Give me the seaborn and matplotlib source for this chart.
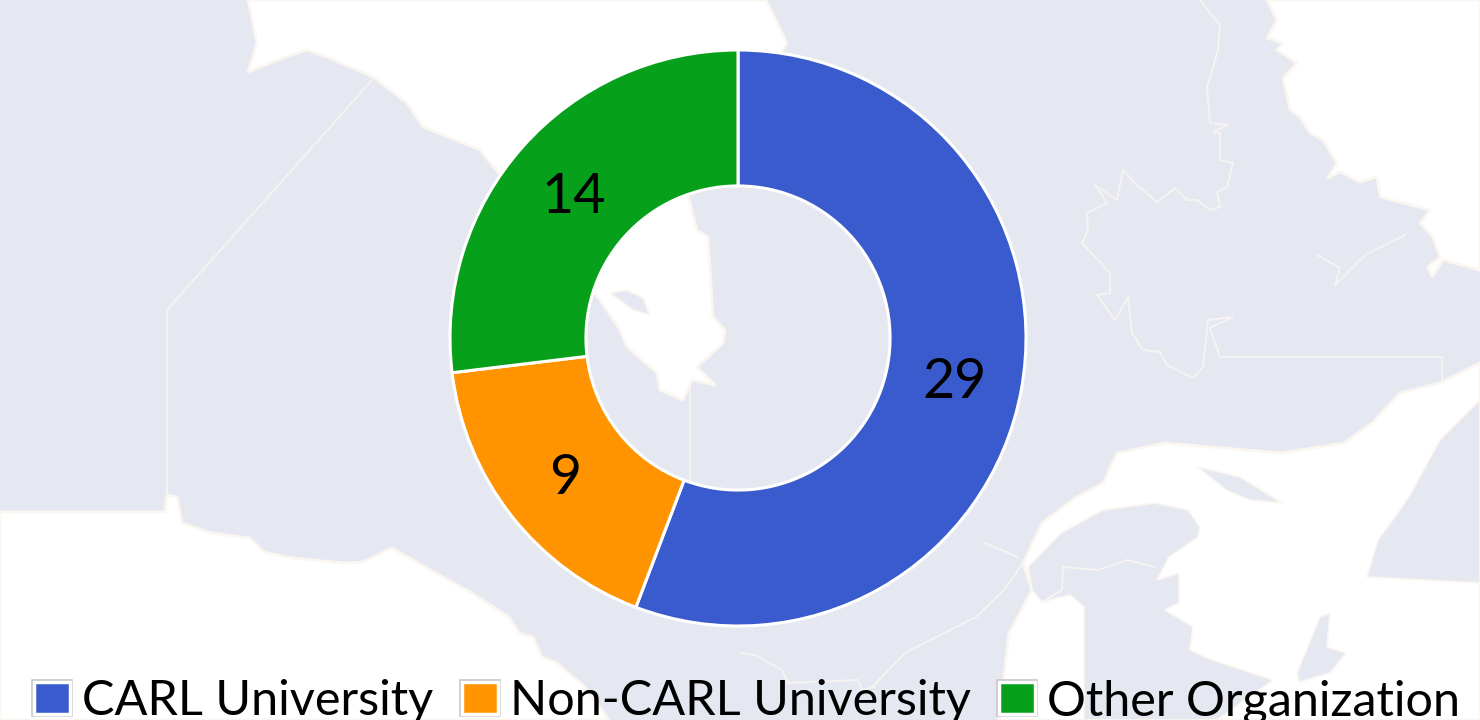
import matplotlib
matplotlib.use('Agg')
import matplotlib.pyplot as plt
import matplotlib.patheffects as pe
from matplotlib.patches import Patch
from matplotlib.transforms import ScaledTranslation
import seaborn as sns

categories = ['CARL University', 'Non-CARL University', 'Other Organization']
values = [29, 9, 14]
colors = sns.color_palette(['#3A5BCD', '#FF9300', '#06A01A'])

LAND = '#E5E8F1'
COAST = '#FBF6F0'

# faded map behind the chart, pixel coordinates
hudson = [(248, 0), (257, 43), (248, 72), (283, 58), (307, 50), (327, 57), (373, 77), (407, 103),
          (423, 127), (480, 150), (600, 300), (620, 330), (627, 347), (657, 373), (660, 390), (683, 400),
          (692, 380), (715, 385), (697, 367), (723, 343), (725, 330), (713, 317), (708, 237), (697, 230),
          (688, 195), (787, 43), (766, 0)]
akimiski = [(610, 293), (627, 290), (643, 298), (650, 315), (633, 310)]
north_sea = [(1267, 0), (1277, 20), (1267, 38), (1283, 43), (1277, 50), (1297, 63), (1283, 78),
             (1290, 110), (1300, 117), (1310, 133), (1323, 140), (1337, 163), (1328, 178),
             (1340, 172), (1360, 182), (1377, 177), (1380, 197), (1430, 210), (1420, 223),
             (1433, 237), (1440, 257), (1428, 267), (1432, 277), (1443, 260), (1480, 270), (1480, 0)]
south_west = [(0, 512), (165, 512), (167, 495), (177, 497), (182, 523), (212, 533), (250, 538),
              (264, 552), (292, 558), (344, 563), (363, 562), (392, 548), (425, 567), (472, 593),
              (509, 617), (519, 633), (533, 637), (542, 657), (557, 663), (585, 687), (609, 720), (0, 720)]
gulf = [(1023, 563), (1042, 523), (1075, 498), (1103, 483), (1117, 453), (1165, 443), (1282, 453),
        (1344, 443), (1372, 423), (1400, 393), (1440, 383), (1480, 363), (1480, 720), (999, 720),
        (1009, 633), (1032, 590)]
maritimes = [(1028, 567), (1061, 533), (1103, 510), (1155, 503), (1188, 510), (1200, 527), (1198, 537),
             (1169, 557), (1157, 580), (1179, 573), (1179, 603), (1165, 610), (1193, 627), (1190, 650),
             (1212, 660), (1273, 680), (1217, 720), (1084, 720), (1084, 607), (1070, 595), (1042, 602),
             (1032, 590)]
cape_breton = [(1297, 673), (1320, 617), (1330, 613), (1327, 647), (1346, 653), (1330, 673), (1299, 682)]
anticosti = [(1198, 467), (1240, 477), (1282, 503), (1250, 500), (1226, 490)]
newfoundland = [(1367, 577), (1378, 540), (1400, 510), (1410, 495), (1440, 440), (1480, 400), (1480, 583)]
coast_lines = [
    [(372, 80), (167, 310), (167, 495)],
    [(690, 385), (690, 490)],
    [(1200, 0), (1220, 25), (1218, 50), (1207, 87), (1210, 123), (1228, 125), (1213, 132), (1220, 133),
     (1220, 160), (1233, 163), (1227, 187), (1217, 192), (1220, 207), (1210, 210), (1197, 200), (1187, 200),
     (1175, 188), (1157, 202), (1137, 185), (1123, 170), (1117, 200), (1095, 185), (1107, 203), (1087, 213),
     (1088, 230), (1082, 243), (1110, 273), (1110, 293), (1097, 295), (1115, 320), (1128, 297), (1132, 333),
     (1143, 350), (1160, 352), (1167, 365), (1193, 378), (1203, 367), (1208, 320), (1233, 317), (1210, 328),
     (1220, 357), (1442, 357), (1442, 383)],
    [(1317, 255), (1340, 268), (1335, 285), (1365, 255), (1405, 235)],
    [(1023, 563), (1004, 590), (976, 617), (905, 653), (872, 687)],
    [(985, 543), (1018, 557)],
    [(1042, 602), (1062, 590), (1063, 567), (1098, 570), (1127, 560), (1155, 567)],
    [(740, 653), (755, 655), (782, 670), (788, 683), (858, 680), (862, 690), (875, 687)],
]

sns.set_theme(style='white')
fig = plt.figure(figsize=(14.8, 7.2), dpi=100, facecolor=LAND)

bg = fig.add_axes([0, 0, 1, 1])
bg.set_xlim(0, 1480)
bg.set_ylim(720, 0)
bg.axis('off')
for shape in [hudson, north_sea, south_west, gulf]:
    bg.fill(*zip(*shape), fc='white', ec=COAST, lw=2, joinstyle='round')
for shape in [maritimes, cape_breton, anticosti, newfoundland, akimiski]:
    bg.fill(*zip(*shape), fc=LAND, ec=COAST, lw=1.2, joinstyle='round')
for line in coast_lines:
    bg.plot(*zip(*line), color=COAST, lw=1.4, alpha=0.8)

# donut: centre 738,338 radius 288 px
ax = fig.add_axes([(738 - 288) / 1480, 1 - (338 + 288) / 720, 576 / 1480, 576 / 720])
total = sum(values)
wedges, _, autotexts = ax.pie(values, colors=colors, startangle=90, counterclock=False,
                              radius=1, pctdistance=0.764,
                              autopct=lambda p: f'{p * total / 100:.0f}',
                              wedgeprops=dict(width=0.472, edgecolor='white', linewidth=2.2),
                              textprops=dict(fontsize=40, family='Lato', color='black'))
ax.set_xlim(-1, 1)
ax.set_ylim(-1, 1)
for t in autotexts:
    t.set_transform(t.get_transform() + ScaledTranslation(0, -0.05, fig.dpi_scale_trans))

handles = [Patch(facecolor=c, edgecolor='white', linewidth=2.5,
                 path_effects=[pe.withStroke(linewidth=4, foreground='#C4C4C4')]) for c in colors]
fig.legend(handles, categories, loc='lower left', bbox_to_anchor=(34 / 1480, -0.005), ncol=3, frameon=False,
           prop=dict(family='Lato', size=35), labelcolor='black', handlelength=0.74, handleheight=0.66,
           handletextpad=0.25, columnspacing=0.58, borderpad=0, borderaxespad=0)

fig.savefig('out.png', dpi=100, facecolor=LAND)
